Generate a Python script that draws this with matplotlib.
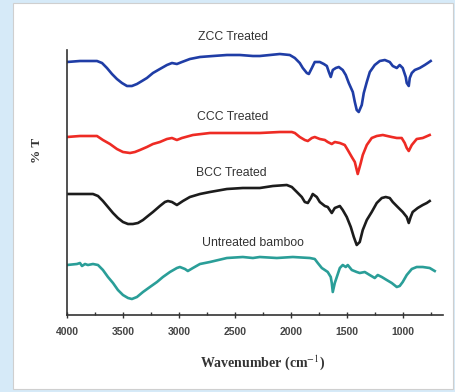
import numpy as np
import matplotlib.pyplot as plt
from matplotlib.patches import Rectangle
from matplotlib.ticker import MultipleLocator

plt.rcParams['mathtext.fontset'] = 'stix'

# FTIR spectra (wavenumber in cm-1, %T in stacked offset units)
zcc_wn = [4000, 3884, 3732, 3687, 3643, 3598, 3554, 3509, 3464, 3420, 3375, 3330, 3286, 3232,
          3170, 3107, 3062, 3018, 2973, 2902, 2812, 2696, 2571, 2455, 2339, 2277, 2187, 2098,
          2009, 1964, 1920, 1893, 1857, 1839, 1812, 1786, 1741, 1705, 1678, 1660, 1643, 1625,
          1598, 1571, 1536, 1509, 1482, 1446, 1428, 1411, 1393, 1366, 1348, 1321, 1294, 1250,
          1205, 1160, 1116, 1089, 1053, 1027, 1000, 973, 964, 946, 937, 919, 892, 848, 803,
          776, 750]
zcc_t = [253, 254, 254, 252, 247, 241, 236, 232, 229, 229, 231, 234, 237, 242,
         246, 250, 252, 251, 253, 256, 258, 259, 260, 260, 259, 259, 260, 261,
         260, 257, 252, 247, 242, 241, 247, 253, 253, 251, 249, 243, 238, 245,
         247, 248, 245, 240, 232, 223, 213, 205, 203, 210, 222, 233, 243, 250,
         254, 255, 253, 249, 247, 250, 247, 238, 232, 229, 237, 242, 245, 247, 250,
         252, 254]

ccc_wn = [4000, 3884, 3732, 3679, 3616, 3554, 3500, 3437, 3393, 3348, 3286, 3232, 3170, 3107,
          3062, 3018, 2973, 2875, 2723, 2571, 2429, 2277, 2098, 1991, 1964, 1920, 1875, 1848,
          1812, 1786, 1741, 1696, 1670, 1634, 1607, 1562, 1518, 1491, 1455, 1428, 1402, 1375,
          1357, 1321, 1277, 1232, 1178, 1098, 1053, 1009, 982, 964, 946, 919, 875, 821, 759]
ccc_t = [178, 179, 179, 175, 171, 166, 163, 162, 163, 165, 168, 171, 173, 176,
         177, 175, 177, 180, 182, 182, 182, 182, 183, 183, 182, 178, 175, 174,
         177, 178, 176, 175, 173, 171, 173, 172, 170, 165, 158, 153, 141, 152,
         160, 170, 177, 179, 180, 178, 177, 177, 172, 167, 164, 170, 176, 177, 180]

bcc_wn = [4000, 3884, 3768, 3723, 3679, 3634, 3589, 3545, 3500, 3455, 3411, 3366, 3321, 3277,
          3232, 3170, 3125, 3098, 3062, 3018, 2991, 2964, 2902, 2812, 2723, 2571, 2429, 2277,
          2160, 2036, 1991, 1946, 1902, 1875, 1848, 1821, 1804, 1768, 1741, 1696, 1670, 1634,
          1607, 1562, 1536, 1500, 1464, 1437, 1411, 1384, 1357, 1321, 1277, 1232, 1187, 1152,
          1116, 1089, 1045, 1000, 964, 946, 929, 911, 866, 821, 785, 759]
bcc_t = [121, 121, 121, 119, 114, 108, 102, 97, 93, 91, 91, 92, 95, 99,
         103, 109, 113, 114, 113, 110, 112, 114, 118, 121, 123, 126, 127, 127,
         129, 130, 128, 123, 118, 113, 112, 117, 121, 118, 113, 109, 108, 102,
         107, 109, 105, 98, 88, 78, 70, 73, 85, 95, 103, 112, 117, 118,
         117, 113, 108, 103, 98, 92, 98, 103, 107, 110, 112, 114]

raw_wn = [4000, 3911, 3884, 3866, 3839, 3813, 3768, 3723, 3679, 3634, 3589, 3545, 3500, 3455,
          3420, 3375, 3321, 3259, 3196, 3143, 3080, 3018, 2991, 2946, 2920, 2875, 2812, 2723,
          2571, 2429, 2339, 2277, 2125, 1982, 1830, 1786, 1759, 1723, 1696, 1670, 1643, 1634,
          1625, 1607, 1589, 1562, 1536, 1509, 1491, 1455, 1411, 1384, 1339, 1295, 1250, 1223,
          1187, 1143, 1098, 1053, 1027, 1000, 964, 919, 875, 821, 759, 714]
raw_t = [50, 51, 52, 49, 51, 50, 51, 50, 45, 38, 32, 25, 20, 17,
         16, 18, 23, 28, 33, 38, 43, 47, 48, 46, 44, 47, 51, 53,
         57, 58, 57, 58, 57, 58, 57, 56, 52, 47, 45, 43, 38, 32,
         23, 32, 38, 47, 50, 48, 50, 45, 43, 42, 43, 40, 37, 40,
         38, 35, 32, 28, 29, 33, 40, 46, 48, 48, 47, 44]

labels = ['ZCC Treated', 'CCC Treated', 'BCC Treated', 'Untreated bamboo']
label_wn = [2518, 2518, 2536, 2339]
label_t = [278, 198, 142, 72]
colors = ['#1f3da6', '#ee2b24', '#1c1c1c', '#2a9e98']

fig = plt.figure(figsize=(4.55, 3.92), dpi=100)
fig.patch.set_facecolor('#d6eaf8')
panel = Rectangle((13 / 455, 3 / 392), 440 / 455, 386 / 392, transform=fig.transFigure,
                  facecolor='white', edgecolor='#cfcfcf', lw=0.8, zorder=-10)
fig.add_artist(panel)

ax = fig.add_axes([67 / 455, 77 / 392, 376 / 455, 265 / 392])
ax.set_facecolor('none')

for wn, t, c in zip([zcc_wn, ccc_wn, bcc_wn, raw_wn], [zcc_t, ccc_t, bcc_t, raw_t], colors):
    ax.plot(wn, t, color=c, lw=1.9, solid_joinstyle='round')

# curve labels
for lab, x, y in zip(labels, label_wn, label_t):
    ax.text(x, y, lab, ha='center', va='center', fontsize=8.8, color='#333333',
            family='Liberation Sans')

ax.set_xlim(4000, 640)
ax.set_ylim(0, 265)
ax.xaxis.set_minor_locator(MultipleLocator(250))
ax.set_xticks([4000, 3500, 3000, 2500, 2000, 1500, 1000])
ax.set_yticks([])
ax.tick_params(axis='x', which='major', direction='inout', length=4, width=1, color='#333333',
               labelsize=7.5, labelcolor='#444444', pad=6.5)
ax.tick_params(axis='x', which='minor', direction='in', length=2.5, width=1, color='#333333')
for lab in ax.get_xticklabels():
    lab.set_fontweight('bold')
    lab.set_family('Liberation Sans')

for s in ['top', 'right']:
    ax.spines[s].set_visible(False)
for s in ['left', 'bottom']:
    ax.spines[s].set_color('#333333')
    ax.spines[s].set_linewidth(1.2)

ax.set_xlabel(r'Wavenumber (cm$^{-1}$)', fontsize=10, fontweight='bold', family='Liberation Serif',
              color='#333333')
ax.xaxis.set_label_coords(0.52, -0.145)
ax.set_ylabel('% T', fontsize=9.5, fontweight='bold', family='Liberation Serif', color='#333333')
ax.yaxis.set_label_coords(-0.064, 0.62)

fig.savefig('out.png', dpi=100, facecolor=fig.get_facecolor())
